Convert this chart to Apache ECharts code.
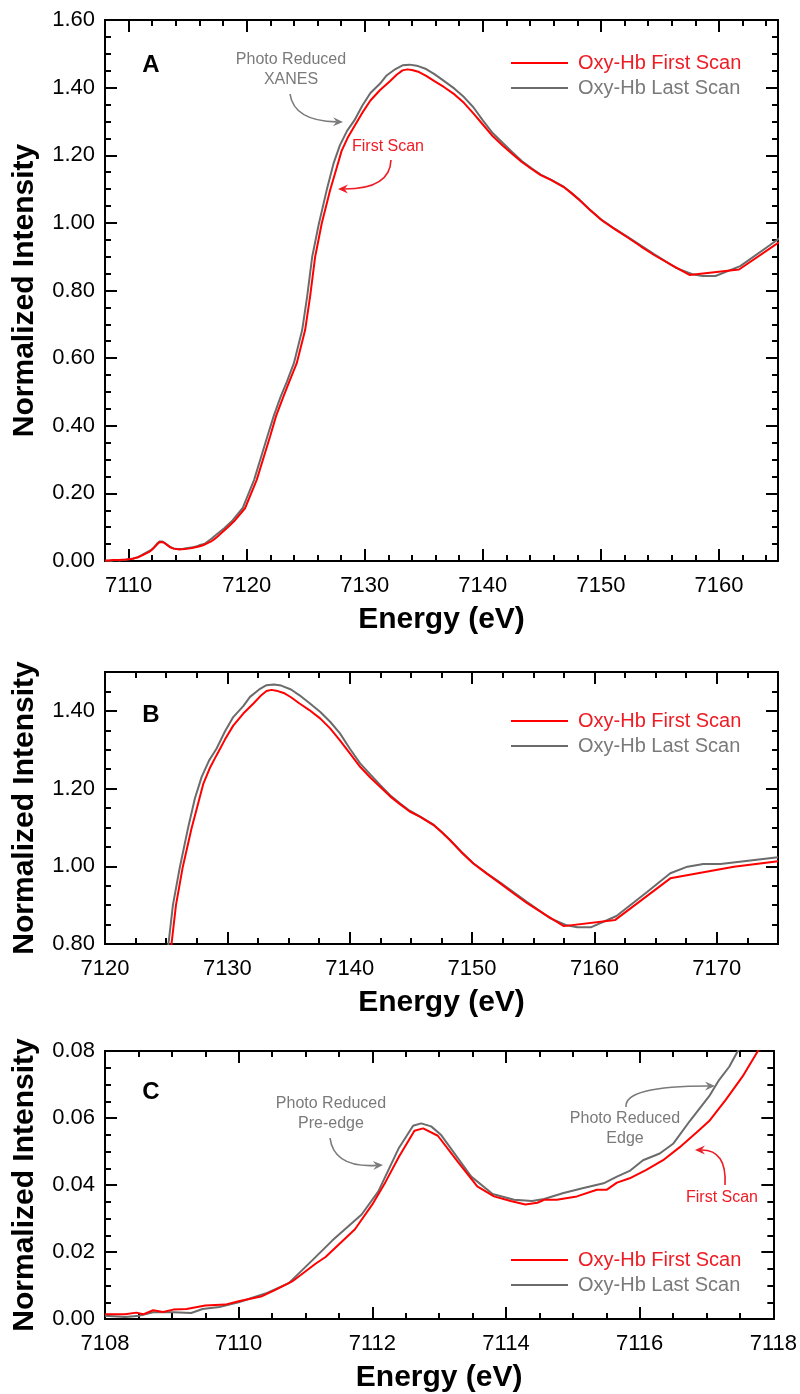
<!DOCTYPE html>
<html>
<head>
<meta charset="utf-8">
<script src="https://cdn.jsdelivr.net/npm/echarts@6/dist/echarts.min.js"></script>
<style>
  html, body { margin: 0; padding: 0; background: #fff; }
  #chart { width: 800px; height: 1394px; }
</style>
</head>
<body>
<div id="chart"></div>
<script>
// Fe K-edge XANES of oxy-Hb
const firstScanE = [7108.0, 7108.3, 7108.47, 7108.57, 7108.72, 7108.87, 7109.02, 7109.22, 7109.5, 7109.8,
  7110.0, 7110.35, 7110.55, 7110.8, 7111.15, 7111.3, 7111.74, 7112.0, 7112.2, 7112.4,
  7112.63, 7112.76, 7112.98, 7113.28, 7113.57, 7113.82, 7114.07, 7114.29, 7114.47, 7114.57,
  7114.76, 7115.06, 7115.36, 7115.51, 7115.66, 7115.85, 7116.1, 7116.35, 7116.6, 7116.85,
  7117.04, 7117.29, 7117.54, 7117.76, 7118.31, 7119.0, 7119.86, 7120.85, 7121.98, 7122.5,
  7123.11, 7123.6, 7124.24, 7124.95, 7125.37, 7125.8, 7126.36, 7127.07, 7127.6, 7128.04,
  7128.6, 7129.12, 7129.8, 7130.48, 7131.3, 7132.13, 7132.7, 7133.2, 7133.6, 7134.0,
  7134.6, 7135.2, 7135.9, 7136.7, 7137.6, 7138.4, 7139.2, 7140.0, 7140.85, 7141.7,
  7142.5, 7143.3, 7144.1, 7144.9, 7145.76, 7146.85, 7147.5, 7148.2, 7149.1, 7150.1,
  7151.2, 7152.3, 7153.4, 7154.5, 7156.0, 7157.5, 7161.7, 7166.2, 7171.4, 7175.0];
const firstScanI = [0.0014, 0.0014, 0.0019, 0.0014, 0.0026, 0.0021, 0.0028, 0.0030, 0.0040, 0.0043,
  0.0053, 0.0068, 0.0087, 0.0112, 0.0165, 0.0185, 0.0268, 0.0342, 0.0410, 0.0485,
  0.0562, 0.0569, 0.0547, 0.0469, 0.0396, 0.0366, 0.0352, 0.0342, 0.0347, 0.0356,
  0.0356, 0.0366, 0.0386, 0.0386, 0.0407, 0.0420, 0.0445, 0.0474, 0.0513, 0.0557,
  0.0591, 0.0655, 0.0724, 0.0797, 0.097, 0.120, 0.156, 0.240, 0.368, 0.430,
  0.486, 0.530, 0.585, 0.683, 0.782, 0.900, 0.999, 1.097, 1.160, 1.213,
  1.255, 1.286, 1.326, 1.362, 1.393, 1.419, 1.438, 1.451, 1.454, 1.452,
  1.446, 1.435, 1.419, 1.402, 1.380, 1.355, 1.324, 1.291, 1.256, 1.228,
  1.204, 1.180, 1.160, 1.141, 1.127, 1.106, 1.088, 1.067, 1.037, 1.007,
  0.981, 0.956, 0.930, 0.905, 0.875, 0.846, 0.862, 0.969, 0.999, 1.013];

const lastScanE = [7108.0, 7108.3, 7108.52, 7108.72, 7109.02, 7109.29, 7109.46, 7109.71, 7110.0, 7110.4,
  7110.75, 7111.1, 7111.4, 7111.84, 7112.09, 7112.39, 7112.61, 7112.73, 7112.88, 7113.03,
  7113.48, 7113.8, 7114.12, 7114.39, 7114.57, 7114.86, 7115.16, 7115.46, 7115.66, 7115.85,
  7116.05, 7116.3, 7116.5, 7116.75, 7117.04, 7117.19, 7117.34, 7117.46, 7118.1, 7118.8,
  7119.65, 7120.63, 7121.75, 7122.3, 7122.88, 7123.4, 7124.0, 7124.7, 7125.12, 7125.55,
  7126.1, 7126.81, 7127.35, 7127.9, 7128.5, 7129.12, 7129.8, 7130.48, 7131.3, 7131.85,
  7132.6, 7133.2, 7133.8, 7134.4, 7135.2, 7135.9, 7136.7, 7137.6, 7138.4, 7139.2,
  7140.0, 7140.85, 7141.7, 7142.5, 7143.3, 7144.1, 7144.9, 7145.76, 7146.85, 7147.5,
  7148.2, 7149.1, 7150.1, 7151.2, 7152.3, 7153.4, 7154.5, 7156.4, 7157.75, 7158.6,
  7159.7, 7161.8, 7164.3, 7166.2, 7167.6, 7168.9, 7170.3, 7175.0];
const lastScanI = [0.0010, 0.0006, 0.0010, 0.0020, 0.0020, 0.0018, 0.0030, 0.0036, 0.0050, 0.0076,
  0.0107, 0.0175, 0.0234, 0.0312, 0.0381, 0.0508, 0.0577, 0.0584, 0.0575, 0.0549,
  0.0425, 0.0373, 0.0356, 0.0352, 0.0358, 0.0376, 0.0391, 0.0405, 0.0425, 0.0442,
  0.0474, 0.0494, 0.0523, 0.0591, 0.0665, 0.0714, 0.0753, 0.0797, 0.097, 0.120,
  0.156, 0.240, 0.368, 0.430, 0.486, 0.530, 0.585, 0.683, 0.782, 0.900,
  0.995, 1.102, 1.175, 1.230, 1.272, 1.303, 1.347, 1.384, 1.412, 1.436,
  1.455, 1.466, 1.468, 1.465, 1.455, 1.440, 1.420, 1.397, 1.372, 1.342,
  1.303, 1.265, 1.236, 1.209, 1.183, 1.162, 1.143, 1.128, 1.107, 1.089,
  1.068, 1.038, 1.008, 0.982, 0.958, 0.933, 0.908, 0.866, 0.848, 0.843,
  0.843, 0.872, 0.934, 0.982, 0.999, 1.006, 1.006, 1.023];

// axis ticks of the three panels
const ticksAx = [7110, 7120, 7130, 7140, 7150, 7160];
const ticksAy = [0, 0.2, 0.4, 0.6, 0.8, 1.0, 1.2, 1.4, 1.6];
const ticksBx = [7120, 7130, 7140, 7150, 7160, 7170];
const ticksBy = [0.8, 1.0, 1.2, 1.4];
const ticksCx = [7108, 7110, 7112, 7114, 7116, 7118];
const ticksCy = [0, 0.02, 0.04, 0.06, 0.08];

const legendNames = ["Oxy-Hb First Scan", "Oxy-Hb Last Scan"];

const RED = "#ff0000", GRAY = "#6b6b6b", RED_TXT = "#ee1c25", GRAY_TXT = "#7a7a7a";
const FONT = "Liberation Sans, Arial, sans-serif";

function zip(xs, ys) { return xs.map((x, i) => [x, ys[i]]); }
const firstScan = zip(firstScanE, firstScanI);
const lastScan = zip(lastScanE, lastScanI);

const grids = [
  { left: 105, top: 20, width: 673, height: 541 },
  { left: 105, top: 672, width: 673, height: 272 },
  { left: 105, top: 1051, width: 673, height: 272 }
];

let xAxes = [], yAxes = [];
const lineSt = { color: "#000", width: 2 };

// one side of a frame: a minor-tick axis and a major-tick axis on top of it
function side(list, grid, pos, min, max, minorStep, majors, label, name, nameGap) {
  const base = {
    type: "value", gridIndex: grid, position: pos, min: min, max: max,
    splitLine: { show: false },
    axisLine: { show: true, onZero: false, lineStyle: lineSt }
  };
  list.push(Object.assign({}, base, {
    interval: minorStep,
    axisTick: { show: true, inside: true, length: 6, lineStyle: lineSt },
    axisLabel: { show: false }
  }));
  const major = Object.assign({}, base, {
    interval: minorStep,
    axisTick: { show: true, inside: true, length: 12, customValues: majors, lineStyle: lineSt },
    axisLabel: label ? Object.assign({ show: true, customValues: majors, fontFamily: FONT, fontSize: 22, color: "#000" }, label) : { show: false }
  });
  if (name) {
    Object.assign(major, {
      name: name, nameLocation: "middle", nameGap: nameGap,
      nameTextStyle: { fontFamily: FONT, fontSize: 30, fontWeight: "bold", color: "#000" }
    });
  }
  list.push(major);
  return list.length - 1;
}

const panels = [
  { x: [7108, 7165, 2, ticksAx], y: [0, 1.6, 0.05, ticksAy] },
  { x: [7120, 7175, 2.5, ticksBx], y: [0.8, 1.5, 0.05, ticksBy] },
  { x: [7108, 7118, 0.5, ticksCx], y: [0, 0.08, 0.005, ticksCy] }
];

const xLab = { margin: 14, formatter: v => String(v) };
const yLab = { margin: 10, formatter: v => v.toFixed(2) };

let series = [];
panels.forEach((p, g) => {
  const xi = side(xAxes, g, "bottom", p.x[0], p.x[1], p.x[2], p.x[3], xLab, "Energy (eV)", 44);
  side(xAxes, g, "top", p.x[0], p.x[1], p.x[2], p.x[3], null);
  const yi = side(yAxes, g, "left", p.y[0], p.y[1], p.y[2], p.y[3], yLab, "Normalized Intensity", 65);
  side(yAxes, g, "right", p.y[0], p.y[1], p.y[2], p.y[3], null);
  series.push({
    type: "line", name: legendNames[1], data: lastScan, xAxisIndex: xi, yAxisIndex: yi,
    symbol: "none", clip: true,
    lineStyle: { color: GRAY, width: 2 }, itemStyle: { color: GRAY }
  });
  series.push({
    type: "line", name: legendNames[0], data: firstScan, xAxisIndex: xi, yAxisIndex: yi,
    symbol: "none", clip: true,
    lineStyle: { color: RED, width: 2 }, itemStyle: { color: RED }
  });
});

const legendTops = [48, 706, 1245];
const legends = legendTops.map(t => ({
  orient: "vertical", left: 505, top: t, itemWidth: 57, itemHeight: 20, itemGap: 5,
  selectedMode: false,
  itemStyle: { opacity: 0 },
  textStyle: { fontFamily: FONT, fontSize: 20, padding: [0, 0, 0, 5] },
  data: [
    { name: legendNames[0], textStyle: { color: RED_TXT } },
    { name: legendNames[1], textStyle: { color: GRAY_TXT } }
  ]
}));

// annotations
function txt(x, y, s, color, size, bold) {
  return { type: "text", x: x, y: y, silent: true, z: 100,
    style: { text: s, fill: color, font: (bold ? "bold " : "") + size + "px " + FONT, textAlign: "center", textVerticalAlign: "middle" } };
}
function arrow(x1, y1, cx, cy, x2, y2, color) {
  const dx = x2 - cx, dy = y2 - cy, len = Math.hypot(dx, dy);
  const ux = dx / len, uy = dy / len, nx = -uy, ny = ux;
  const L = 10, W = 4.5, N = 3.5;
  const bx = x2 - ux * (L - N), by = y2 - uy * (L - N);
  return [
    { type: "bezierCurve", silent: true, z: 100,
      shape: { x1: x1, y1: y1, cpx1: cx, cpy1: cy, x2: bx, y2: by },
      style: { stroke: color, lineWidth: 1.6, fill: null } },
    { type: "polygon", silent: true, z: 100,
      shape: { points: [[x2, y2], [x2 - ux * L + nx * W, y2 - uy * L + ny * W], [bx, by], [x2 - ux * L - nx * W, y2 - uy * L - ny * W]] },
      style: { fill: color } }
  ];
}

const graphics = [
  txt(151, 65, "A", "#000", 24, true),
  txt(151, 715, "B", "#000", 24, true),
  txt(151, 1092, "C", "#000", 24, true),
  txt(291, 60, "Photo Reduced", GRAY_TXT, 16),
  txt(291, 80, "XANES", GRAY_TXT, 16),
  txt(388, 147, "First Scan", RED_TXT, 16),
  txt(331, 1104, "Photo Reduced", GRAY_TXT, 16),
  txt(331, 1124, "Pre-edge", GRAY_TXT, 16),
  txt(625, 1119, "Photo Reduced", GRAY_TXT, 16),
  txt(625, 1139, "Edge", GRAY_TXT, 16),
  txt(722, 1198, "First Scan", RED_TXT, 16)
].concat(
  arrow(290, 94, 294, 121, 343, 122, GRAY_TXT),
  arrow(391, 160, 390, 189, 338, 189, RED_TXT),
  arrow(330, 1138, 334, 1168, 383, 1165, GRAY_TXT),
  arrow(626, 1107, 624, 1086, 715, 1086, GRAY_TXT),
  arrow(725, 1185, 727, 1150, 695, 1150, RED_TXT)
);

const chart = echarts.init(document.getElementById("chart"));
chart.setOption({
  animation: false,
  backgroundColor: "#fff",
  grid: grids,
  xAxis: xAxes,
  yAxis: yAxes,
  legend: legends,
  series: series,
  graphic: graphics
});
window.addEventListener("resize", function () { chart.resize(); });
</script>
</body>
</html>
